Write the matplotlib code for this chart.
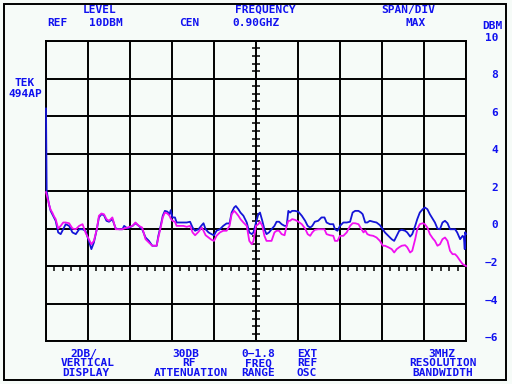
#!/usr/bin/env python3
"""Tek 494AP spectrum analyzer screen: two stored traces on the graticule."""

import numpy as np
import matplotlib
matplotlib.use("Agg")
import matplotlib.pyplot as plt
from matplotlib.patches import Rectangle

SPAN_PER_DIV = 0.18  # GHz, 0-1.8 GHz over 10 divisions

# trace A (blue) - position in divisions, level in dBm
blue_div = [0.0, 0.016, 0.07, 0.11, 0.15, 0.19, 0.23, 0.29, 0.35, 0.41, 0.47, 0.55, 0.63, 0.71, 0.79,
            0.87, 0.94, 1.02, 1.08, 1.14, 1.21, 1.26, 1.32, 1.38, 1.44, 1.50, 1.58, 1.66, 1.74, 1.82,
            1.86, 1.94, 2.06, 2.13, 2.21, 2.29, 2.37, 2.45, 2.53, 2.595, 2.635, 2.675, 2.73, 2.78,
            2.83, 2.89, 2.94, 2.97, 3.01, 3.07, 3.11, 3.19, 3.27, 3.35, 3.43, 3.49, 3.55, 3.63, 3.71,
            3.75, 3.80, 3.87, 3.94, 4.0, 4.06, 4.14, 4.22, 4.30, 4.37, 4.42, 4.48, 4.52, 4.58, 4.63,
            4.70, 4.78, 4.84, 4.90, 4.94, 5.0, 5.056, 5.095, 5.15, 5.20, 5.25, 5.31, 5.37, 5.44, 5.49,
            5.55, 5.61, 5.68, 5.73, 5.77, 5.81, 5.86, 5.93, 6.01, 6.09, 6.17, 6.23, 6.29, 6.34, 6.40,
            6.48, 6.56, 6.63, 6.68, 6.76, 6.84, 6.88, 6.94, 7.0, 7.08, 7.16, 7.24, 7.30, 7.36, 7.44,
            7.50, 7.54, 7.60, 7.65, 7.71, 7.79, 7.87, 7.95, 8.02, 8.07, 8.15, 8.23, 8.29, 8.35, 8.41,
            8.47, 8.55, 8.60, 8.67, 8.72, 8.79, 8.84, 8.90, 8.97, 9.02, 9.08, 9.14, 9.21, 9.26, 9.32,
            9.38, 9.44, 9.50, 9.56, 9.62, 9.68, 9.74, 9.79, 9.86, 9.92, 9.95, 9.97, 9.98, 10.0]
blue_dbm = [6.4, 2.0, 1.3, 0.94, 0.76, 0.59, 0.41, -0.21, -0.3, -0.04, 0.23, 0.14, -0.21, -0.3, -0.04,
            -0.04, -0.12, -0.66, -1.1, -0.75, -0.04, 0.59, 0.76, 0.71, 0.41, 0.36, 0.5, 0.0, -0.04, -0.04,
            0.14, 0.0, 0.14, 0.28, 0.14, -0.04, -0.48, -0.66, -0.92, -0.92, -0.92, -0.39, 0.14, 0.68,
            0.94, 0.9, 0.76, 0.98, 0.59, 0.59, 0.32, 0.32, 0.32, 0.32, 0.36, 0.05, -0.12, -0.04, 0.18,
            0.28, -0.04, -0.21, -0.3, -0.36, -0.12, -0.04, 0.14, 0.27, 0.27, 0.85, 1.12, 1.2, 1.03, 0.85,
            0.68, 0.32, -0.21, -0.3, -0.21, 0.32, 0.76, 0.85, 0.41, -0.04, -0.3, -0.21, -0.04, 0.14, 0.36,
            0.36, 0.23, 0.14, 0.14, 0.94, 0.85, 0.94, 0.94, 0.89, 0.68, 0.41, 0.14, 0.05, 0.14, 0.36,
            0.41, 0.59, 0.59, 0.32, 0.23, 0.23, -0.04, -0.12, 0.14, 0.32, 0.32, 0.36, 0.85, 0.94, 0.94,
            0.85, 0.76, 0.32, 0.32, 0.41, 0.36, 0.32, 0.18, -0.04, -0.21, -0.39, -0.57, -0.66, -0.39, -0.12,
            -0.07, -0.12, -0.21, -0.43, -0.3, 0.14, 0.5, 0.85, 1.03, 1.12, 1.03, 0.76, 0.5, 0.32, 0.0,
            -0.04, 0.32, 0.41, 0.28, -0.04, -0.04, -0.04, -0.21, -0.57, -0.39, -0.48, -1.1, -0.2, -0.3]

# trace B (magenta)
mag_div = [0.0, 0.016, 0.07, 0.11, 0.15, 0.19, 0.23, 0.29, 0.35, 0.41, 0.47, 0.55, 0.63, 0.71, 0.79,
           0.87, 0.94, 1.02, 1.08, 1.14, 1.21, 1.26, 1.32, 1.38, 1.44, 1.50, 1.58, 1.66, 1.74, 1.82,
           1.86, 1.94, 2.06, 2.13, 2.21, 2.29, 2.37, 2.45, 2.53, 2.595, 2.635, 2.675, 2.73, 2.78,
           2.83, 2.89, 2.94, 2.97, 3.01, 3.07, 3.11, 3.19, 3.27, 3.35, 3.43, 3.49, 3.55, 3.63, 3.71,
           3.75, 3.80, 3.87, 3.94, 4.0, 4.06, 4.14, 4.22, 4.30, 4.37, 4.42, 4.48, 4.52, 4.58, 4.63,
           4.70, 4.78, 4.84, 4.90, 4.94, 5.0, 5.056, 5.095, 5.15, 5.20, 5.25, 5.31, 5.37, 5.44, 5.49,
           5.55, 5.61, 5.68, 5.73, 5.77, 5.81, 5.86, 5.93, 6.01, 6.09, 6.17, 6.23, 6.29, 6.34, 6.40,
           6.48, 6.56, 6.63, 6.68, 6.76, 6.84, 6.88, 6.94, 7.0, 7.08, 7.16, 7.24, 7.30, 7.36, 7.44,
           7.50, 7.56, 7.60, 7.65, 7.71, 7.79, 7.87, 7.95, 8.02, 8.07, 8.15, 8.23, 8.29, 8.35, 8.41,
           8.47, 8.55, 8.60, 8.67, 8.72, 8.79, 8.84, 8.90, 8.97, 9.02, 9.08, 9.14, 9.21, 9.26, 9.32,
           9.38, 9.44, 9.50, 9.56, 9.62, 9.68, 9.74, 9.79, 9.86, 9.92, 10.0]
mag_dbm = [1.94, 1.8, 1.3, 1.0, 0.85, 0.65, 0.5, 0.0, 0.14, 0.32, 0.32, 0.28, 0.0, -0.04, 0.14,
           0.23, -0.21, -0.57, -0.84, -0.66, -0.04, 0.68, 0.8, 0.76, 0.5, 0.41, 0.59, -0.04, -0.04, -0.04,
           0.0, 0.05, 0.14, 0.32, 0.14, 0.05, -0.57, -0.75, -0.92, -0.92, -0.92, -0.48, 0.05, 0.59,
           0.85, 0.8, 0.68, 0.53, 0.41, 0.36, 0.14, 0.14, 0.14, 0.09, 0.14, -0.21, -0.36, -0.18, 0.05,
           -0.12, -0.36, -0.48, -0.6, -0.66, -0.39, -0.21, -0.12, -0.12, 0.14, 0.76, 0.94, 0.85, 0.68, 0.5,
           0.32, 0.14, -0.66, -0.84, -0.66, 0.14, 0.23, 0.36, 0.14, -0.39, -0.66, -0.66, -0.66, -0.21, -0.12,
           -0.12, -0.3, -0.36, 0.14, 0.41, 0.41, 0.5, 0.46, 0.36, 0.23, 0.0, -0.3, -0.39, -0.21, -0.07,
           -0.04, -0.04, -0.04, -0.3, -0.36, -0.39, -0.66, -0.66, -0.39, -0.39, -0.21, 0.14, 0.28, 0.28, 0.23,
           0.0, -0.21, -0.1, -0.3, -0.36, -0.39, -0.48, -0.66, -0.92, -0.92, -1.0, -1.1, -1.28, -1.1, -1.0,
           -0.92, -0.89, -1.0, -1.28, -1.19, -0.57, -0.04, 0.23, 0.28, 0.23, 0.05, -0.3, -0.53, -0.66, -0.92,
           -0.84, -0.57, -0.48, -0.66, -1.19, -1.37, -1.37, -1.49, -1.72, -1.9, -2.0]

dbm_ticks = [10, 8, 6, 4, 2, 0, -2, -4, -6]

TEXT = "#1010f0"
BG = "#f6fbf8"
W, H = 512, 384


def px(x, y):
    return x / W, 1 - y / H


def label(x, y, s, ha="center"):
    fx, fy = px(x, y)
    fig.text(fx, fy, s, ha=ha, va="center", color=TEXT, fontsize=8,
             family="DejaVu Sans Mono", weight="bold")


fig = plt.figure(figsize=(5.12, 3.84), dpi=100, facecolor=BG)
fig.patches.append(Rectangle(px(4, 380), 502 / W, 376 / H, transform=fig.transFigure,
                             fill=False, edgecolor="black", linewidth=1.4))

ax = fig.add_axes([46 / W, 1 - 341 / H, 420 / W, 300 / H], facecolor=BG)
ax.set_xlim(0, 10 * SPAN_PER_DIV)
ax.set_ylim(-6, 10)
ax.set_xticks(np.arange(11) * SPAN_PER_DIV)
ax.set_yticks(dbm_ticks)
ax.tick_params(length=0, labelleft=False, labelbottom=False)
ax.grid(True, color="black", linewidth=1.4)
for s in ax.spines.values():
    s.set_linewidth(1.4)

# graticule minor marks on the centre lines
cx = 5 * SPAN_PER_DIV
ax.vlines(np.arange(0, 50) * SPAN_PER_DIV / 5, -2.0, -2.28, color="black", linewidth=1.1)
ax.hlines(np.arange(-30, 50) * 0.4, cx - 0.017, cx + 0.017, color="black", linewidth=1.1)

ax.plot(np.array(blue_div) * SPAN_PER_DIV, blue_dbm, color="#1414d8", linewidth=1.3,
        clip_on=False, zorder=5)
ax.plot(np.array(mag_div) * SPAN_PER_DIV, mag_dbm, color="#f010f0", linewidth=1.3,
        clip_on=False, zorder=6)

# header
label(100, 10, "LEVEL")
label(57, 23, "REF")
label(106, 23, "10DBM")
label(189, 23, "CEN")
label(265, 10, "FREQUENCY")
label(256, 23, "0.90GHZ")
label(408, 10, "SPAN/DIV")
label(416, 23, "MAX")
label(492, 26, "DBM")
label(25, 83, "TEK")
label(25, 94, "494AP")

# right scale
for i, v in enumerate(dbm_ticks):
    label(498, 38 + i * 37.5, str(v).replace("-", "\u2212"), ha="right")

# footer
label(84, 354, "2DB/")
label(88, 363.5, "VERTICAL")
label(86, 373, "DISPLAY")
label(186, 354, "30DB")
label(189, 363.5, "RF")
label(191, 373, "ATTENUATION")
label(258, 354, "0\u22121.8")
label(258, 363.5, "FREQ")
label(258, 373, "RANGE")
label(307, 354, "EXT")
label(307, 363.5, "REF")
label(307, 373, "OSC")
label(442, 354, "3MHZ")
label(443, 363.5, "RESOLUTION")
label(443, 373, "BANDWIDTH")

fig.savefig("out.png", dpi=100, facecolor=BG)
